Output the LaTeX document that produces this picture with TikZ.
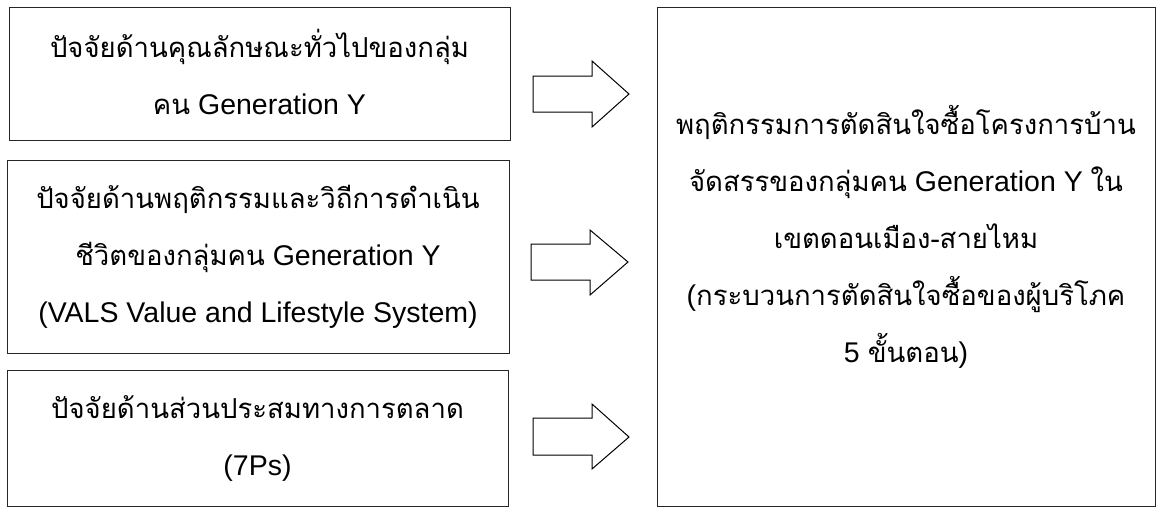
\documentclass[tikz,border=0pt]{standalone}
\usepackage{fontspec}
\setmainfont{Liberation Sans}
\newfontfamily\thaifont[Script=Thai,Scale=0.965]{Loma}
\newcommand{\thx}[1]{{\thaifont #1}}
\begin{document}
\begin{tikzpicture}[x=1pt,y=-1pt,
  box/.style={draw=black!85,line width=1pt,inner sep=0pt,outer sep=0pt,rectangle},
  txt/.style={align=center,inner sep=0pt,font=\fontsize{28.5}{57}\selectfont},
  blockarrow/.style={draw=black,line width=1pt,fill=white,line join=miter}]
\useasboundingbox (0,0) rectangle (1159,507);
\node[box,minimum width=501pt,minimum height=133pt] (b1) at (259.5,73.5) {};
\node[box,minimum width=502pt,minimum height=193pt] (b2) at (258,256.5) {};
\node[box,minimum width=501pt,minimum height=136pt] (b3) at (257.5,438) {};
\node[box,minimum width=498pt,minimum height=499pt] (big) at (906,256.5) {};
\node[txt,yshift=2pt] (t1) at (b1.center) {\thx{ปัจจัยด้านคุณลักษณะทั่วไปของกลุ่ม}\\\thx{คน} Generation Y};
\node[txt] (t2) at (b2.center) {\thx{ปัจจัยด้านพฤติกรรมและวิถีการดำเนิน}\\\thx{ชีวิตของกลุ่มคน} Generation Y\\(VALS Value and Lifestyle System)};
\node[txt] (t3) at (b3.center) {\thx{ปัจจัยด้านส่วนประสมทางการตลาด}\\(7Ps)};
\node[txt,yshift=20pt] (tb) at (big.center) {\thx{พฤติกรรมการตัดสินใจซื้อโครงการบ้าน}\\\thx{จัดสรรของกลุ่มคน} Generation Y \thx{ใน}\\\thx{เขตดอนเมือง-สายไหม}\\(\thx{กระบวนการตัดสินใจซื้อของผู้บริโภค}\\5 \thx{ขั้นตอน})};
\draw[blockarrow] (533,76) -- (592,76) -- (592,61) -- (629,94) -- (592,127) -- (592,112) -- (533,112) -- cycle;
\draw[blockarrow] (531,244) -- (590,244) -- (590,230) -- (628,262) -- (590,295) -- (590,280) -- (531,280) -- cycle;
\draw[blockarrow] (533,418) -- (592,418) -- (592,404) -- (629,437) -- (592,469) -- (592,455) -- (533,455) -- cycle;
\end{tikzpicture}
\end{document}
